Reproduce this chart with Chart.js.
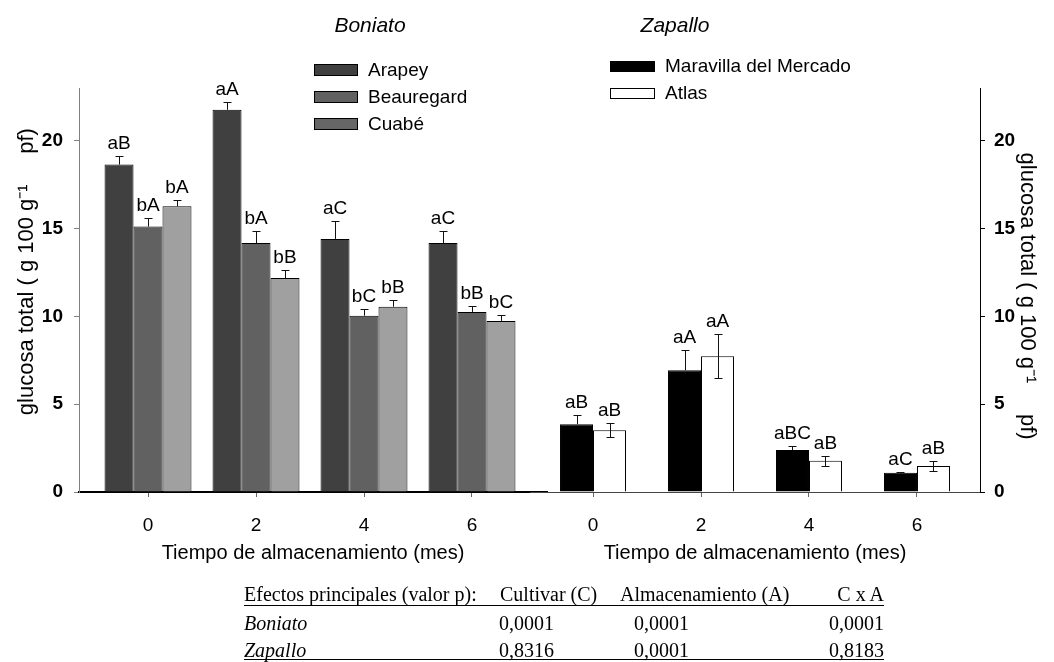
<!DOCTYPE html>
<html>
<head>
<meta charset="utf-8">
<script src="https://cdn.jsdelivr.net/npm/chart.js@4.4.1/dist/chart.umd.min.js"></script>
<style>
  body { margin: 0; background: #fff; }
  #wrap { position: relative; width: 1054px; height: 662px; background: #fff; overflow: hidden;
          font-family: 'Liberation Sans', Arial, sans-serif; color: #000; }
  #wrap canvas { position: absolute; left: 0; top: 0; }
  .t { position: absolute; white-space: nowrap; line-height: 24px; height: 24px; }
  .sw { position: absolute; width: 44px; height: 12px; border: 1px solid #000; box-sizing: border-box; }
  .tab { position: absolute; white-space: nowrap; line-height: 22px; height: 22px;
         font-family: 'Liberation Serif', 'Times New Roman', serif; font-size: 20px; }
  .rule { position: absolute; left: 244px; width: 640px; height: 1px; background: #000; }
</style>
</head>
<body>
<div id="wrap">
  <canvas id="left" width="1054" height="662"></canvas>
  <canvas id="right" width="1054" height="662"></canvas>
  <div class="t" style="left:370px;top:13px;transform:translateX(-50%);font-size:21px;font-style:italic">Boniato</div>
  <div class="t" style="left:675px;top:13px;transform:translateX(-50%);font-size:21px;font-style:italic">Zapallo</div>
  <div id="legends"></div>
  <div id="table"></div>
</div>
<script>
// storage time (months)
const months = [0, 2, 4, 6];
const yTicks = [0, 5, 10, 15, 20];

// Boniato (sweet potato)
const arapey = [18.64, 21.76, 14.41, 14.17];
const arapeyErr = [0.5, 0.45, 1.04, 0.68];
const arapeyLetters = ['aB', 'aA', 'aC', 'aC'];
const beauregard = [15.11, 14.17, 10.04, 10.25];
const beauregardErr = [0.5, 0.68, 0.36, 0.36];
const beauregardLetters = ['bA', 'bA', 'bC', 'bB'];
const cuabe = [16.27, 12.18, 10.55, 9.74];
const cuabeErr = [0.33, 0.47, 0.4, 0.32];
const cuabeLetters = ['bA', 'bB', 'bB', 'bC'];

// Zapallo (squash)
const maravilla = [3.86, 6.93, 2.39, 1.1];
const maravillaErr = [0.52, 1.14, 0.24, 0.06];
const maravillaLetters = ['aB', 'aA', 'aBC', 'aC'];
const atlas = [3.52, 7.73, 1.78, 1.48];
const atlasErr = [0.4, 1.25, 0.28, 0.28];
const atlasLetters = ['aB', 'aA', 'aB', 'aB'];

// p values table
const tableHeader = ['Efectos principales (valor p):', 'Cultivar (C)', 'Almacenamiento (A)', 'C x A'];
const tableRows = ['Boniato', 'Zapallo'];
const pCultivar = ['0,0001', '0,8316'];
const pAlmacen = ['0,0001', '0,0001'];
const pInter = ['0,0001', '0,8183'];

const FONT = "'Liberation Sans', Arial, sans-serif";
// leading spaces nudge the rotated titles along the axis like in the original
const yTitleLeft = '      glucosa total ( g 100 g\u207B\u00B9     pf)';
const yTitleRight = '  glucosa total ( g 100 g\u207B\u00B9     pf)';
const xTitle = 'Tiempo de almacenamiento (mes)';

Chart.defaults.font.family = FONT;
Chart.defaults.color = '#000';

const toPoints = (vals) => vals.map((v, i) => ({x: months[i], y: v}));

const errorBars = {
    id: 'errorBars',
    afterDatasetsDraw(chart) {
        const ctx = chart.ctx;
        const yScale = chart.scales.y;
        chart.data.datasets.forEach((ds, i) => {
            const meta = chart.getDatasetMeta(i);
            meta.data.forEach((bar, j) => {
                const v = ds.data[j].y;
                const e = ds.errors[j];
                const x = Math.round(bar.x) + 0.5;
                const yTop = Math.round(yScale.getPixelForValue(v + e)) + 0.5;
                const yBot = ds.lowerError ? Math.round(yScale.getPixelForValue(v - e)) + 0.5 : bar.y;
                ctx.save();
                ctx.strokeStyle = '#111';
                ctx.lineWidth = 1;
                ctx.beginPath();
                ctx.moveTo(x, yBot);
                ctx.lineTo(x, yTop);
                ctx.moveTo(x - 4, yTop);
                ctx.lineTo(x + 4, yTop);
                if (ds.lowerError) {
                    ctx.moveTo(x - 4, yBot);
                    ctx.lineTo(x + 4, yBot);
                }
                ctx.stroke();
                ctx.fillStyle = '#000';
                ctx.font = '19px ' + FONT;
                ctx.textAlign = 'center';
                ctx.textBaseline = 'bottom';
                ctx.fillText(ds.letters[j], bar.x, yTop - 3);
                ctx.restore();
            });
        });
    }
};

function makeChart(canvasId, datasets, side) {
    const isLeft = side === 'left';
    // chart area: left 79..547, right 530..980, top 88, bottom 492
    const xMin = isLeft ? -1.278 : -1.167;
    const xMax = isLeft ? 7.389 : 7.167;
    return new Chart(document.getElementById(canvasId), {
        type: 'bar',
        data: {datasets: datasets},
        options: {
            responsive: false,
            animation: false,
            events: [],
            layout: {padding: {left: isLeft ? 0 : 530, right: isLeft ? 507 : 0, top: 88, bottom: 90}},
            plugins: {legend: {display: false}, tooltip: {enabled: false}},
            scales: {
                x: {
                    type: 'linear',
                    offset: false,
                    min: xMin,
                    max: xMax,
                    afterBuildTicks: (s) => { s.ticks = months.map((v) => ({value: v})); },
                    afterFit: (s) => { s.height = 80; },
                    border: {color: isLeft ? '#000' : '#444', width: isLeft ? 2 : 1},
                    grid: {offset: false, drawOnChartArea: false, tickLength: 5, color: '#666'},
                    ticks: {font: {size: 19}, padding: 17, maxRotation: 0},
                    title: {display: true, text: xTitle, font: {size: 20}, padding: {top: 0, bottom: 7}}
                },
                y: {
                    position: isLeft ? 'left' : 'right',
                    min: 0,
                    max: 23,
                    afterBuildTicks: (s) => { s.ticks = yTicks.map((v) => ({value: v})); },
                    afterFit: (s) => { s.width = isLeft ? 79 : 74; },
                    border: {color: isLeft ? '#808080' : '#000', width: 1},
                    grid: {drawOnChartArea: false, tickLength: 5, color: isLeft ? '#808080' : '#000'},
                    ticks: {font: {size: 19, weight: 'bold'}, padding: isLeft ? 11 : 9},
                    title: {display: true, text: isLeft ? yTitleLeft : yTitleRight, font: {size: 22}, padding: {top: 14}}
                }
            }
        },
        plugins: [errorBars]
    });
}

const leftChart = makeChart('left', [
    {label: 'Arapey', data: toPoints(arapey), errors: arapeyErr, letters: arapeyLetters,
     backgroundColor: '#404040', legendColor: '#404040', borderColor: '#000', borderWidth: 1,
     barPercentage: 1, categoryPercentage: 0.805},
    {label: 'Beauregard', data: toPoints(beauregard), errors: beauregardErr, letters: beauregardLetters,
     backgroundColor: '#616161', legendColor: '#616161', borderColor: '#000', borderWidth: 1,
     barPercentage: 1, categoryPercentage: 0.805},
    {label: 'Cuabé', data: toPoints(cuabe), errors: cuabeErr, letters: cuabeLetters,
     backgroundColor: '#a0a0a0', legendColor: '#666666', borderColor: '#000', borderWidth: 1,
     barPercentage: 1, categoryPercentage: 0.805}
], 'left');

const rightChart = makeChart('right', [
    {label: 'Maravilla del Mercado', data: toPoints(maravilla), errors: maravillaErr, letters: maravillaLetters,
     backgroundColor: '#000', legendColor: '#000', borderColor: '#000', borderWidth: 1,
     barPercentage: 1, categoryPercentage: 0.611},
    {label: 'Atlas', data: toPoints(atlas), errors: atlasErr, letters: atlasLetters, lowerError: true,
     backgroundColor: '#fff', legendColor: '#fff', borderColor: '#000', borderWidth: 1,
     barPercentage: 1, categoryPercentage: 0.611}
], 'right');

// legends built from the chart datasets
function buildLegend(chart, swLeft, textLeft, firstY, step, swW, swH) {
    const box = document.getElementById('legends');
    chart.data.datasets.forEach((ds, i) => {
        const cy = firstY + i * step;
        const sw = document.createElement('div');
        sw.className = 'sw';
        sw.style.cssText = 'left:' + swLeft + 'px;top:' + (cy - swH / 2) + 'px;width:' + swW + 'px;height:' + swH + 'px;background:' + ds.legendColor;
        box.appendChild(sw);
        const t = document.createElement('div');
        t.className = 't';
        t.style.cssText = 'left:' + textLeft + 'px;top:' + (cy - 12) + 'px;font-size:19px';
        t.textContent = ds.label;
        box.appendChild(t);
    });
}
buildLegend(leftChart, 314, 368, 70, 27, 44, 12);
buildLegend(rightChart, 610, 665, 66, 27, 45, 11);

// p value table
function cell(text, x, cy, opts) {
    const d = document.createElement('div');
    d.className = 'tab';
    d.textContent = text;
    let css = 'top:' + (cy - 11) + 'px;left:' + x + 'px;';
    if (opts && opts.right) css += 'transform:translateX(-100%);';
    if (opts && opts.italic) css += 'font-style:italic;';
    d.style.cssText = css;
    document.getElementById('table').appendChild(d);
}
const tab = document.getElementById('table');
cell(tableHeader[0], 244, 594);
cell(tableHeader[1], 500, 594);
cell(tableHeader[2], 620, 594);
cell(tableHeader[3], 884, 594, {right: true});
tableRows.forEach((name, i) => {
    const cy = 623 + i * 27;
    cell(name, 244, cy, {italic: true});
    cell(pCultivar[i], 499, cy);
    cell(pAlmacen[i], 634, cy);
    cell(pInter[i], 884, cy, {right: true});
});
[605, 659].forEach((y) => {
    const r = document.createElement('div');
    r.className = 'rule';
    r.style.top = y + 'px';
    tab.appendChild(r);
});
</script>
</body>
</html>
